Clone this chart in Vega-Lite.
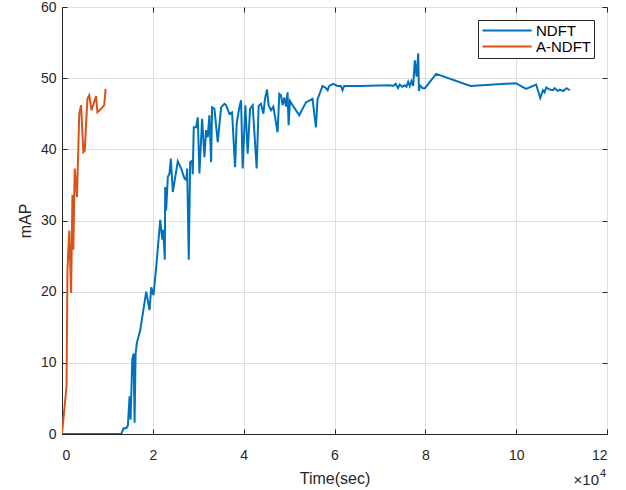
{
  "$schema": "https://vega.github.io/schema/vega-lite/v6.json",
  "width": 545,
  "height": 427,
  "autosize": {"type": "none"},
  "padding": {"left": 62, "top": 7, "right": 19, "bottom": 56},
  "background": "white",
  "config": {
    "font": "Liberation Sans",
    "view": {"stroke": "#262626", "strokeWidth": 1},
    "axis": {
      "labelFont": "Liberation Sans",
      "titleFont": "Liberation Sans",
      "labelFontSize": 14,
      "titleFontSize": 16,
      "titleFontWeight": "normal",
      "labelColor": "#262626",
      "titleColor": "#262626",
      "domainColor": "#262626",
      "tickColor": "#262626",
      "gridColor": "#dedede",
      "gridOpacity": 1
    }
  },
  "datasets": {
    "series": [
      {"series": "NDFT", "t": 0, "map": 0},
      {"series": "NDFT", "t": 13050, "map": 0},
      {"series": "NDFT", "t": 13560, "map": 0.8},
      {"series": "NDFT", "t": 14150, "map": 0.8},
      {"series": "NDFT", "t": 14510, "map": 1.2},
      {"series": "NDFT", "t": 14880, "map": 5.3},
      {"series": "NDFT", "t": 15100, "map": 2},
      {"series": "NDFT", "t": 15470, "map": 10.4},
      {"series": "NDFT", "t": 15760, "map": 11.3},
      {"series": "NDFT", "t": 15980, "map": 1.6},
      {"series": "NDFT", "t": 16200, "map": 11.2},
      {"series": "NDFT", "t": 16480, "map": 12.8},
      {"series": "NDFT", "t": 17230, "map": 14.6},
      {"series": "NDFT", "t": 18550, "map": 20},
      {"series": "NDFT", "t": 19270, "map": 17.4},
      {"series": "NDFT", "t": 19650, "map": 20.6},
      {"series": "NDFT", "t": 20150, "map": 19.5},
      {"series": "NDFT", "t": 20750, "map": 23.5},
      {"series": "NDFT", "t": 21630, "map": 30.1},
      {"series": "NDFT", "t": 22070, "map": 27.3},
      {"series": "NDFT", "t": 22290, "map": 28.7},
      {"series": "NDFT", "t": 22640, "map": 24.5},
      {"series": "NDFT", "t": 22720, "map": 34.7},
      {"series": "NDFT", "t": 22940, "map": 31.4},
      {"series": "NDFT", "t": 23300, "map": 36.1},
      {"series": "NDFT", "t": 23670, "map": 36.6},
      {"series": "NDFT", "t": 23960, "map": 38.7},
      {"series": "NDFT", "t": 24400, "map": 34.0},
      {"series": "NDFT", "t": 25490, "map": 38.3},
      {"series": "NDFT", "t": 26240, "map": 37.3},
      {"series": "NDFT", "t": 26970, "map": 35.9},
      {"series": "NDFT", "t": 27340, "map": 35.7},
      {"series": "NDFT", "t": 27560, "map": 37.3},
      {"series": "NDFT", "t": 27910, "map": 24.5},
      {"series": "NDFT", "t": 28220, "map": 38.2},
      {"series": "NDFT", "t": 28660, "map": 38.4},
      {"series": "NDFT", "t": 28790, "map": 36.5},
      {"series": "NDFT", "t": 29010, "map": 43.1},
      {"series": "NDFT", "t": 29540, "map": 43.1},
      {"series": "NDFT", "t": 29890, "map": 44.5},
      {"series": "NDFT", "t": 30260, "map": 36.6},
      {"series": "NDFT", "t": 30850, "map": 44.3},
      {"series": "NDFT", "t": 31360, "map": 38.9},
      {"series": "NDFT", "t": 31730, "map": 42.7},
      {"series": "NDFT", "t": 32090, "map": 41.7},
      {"series": "NDFT", "t": 32460, "map": 44.8},
      {"series": "NDFT", "t": 32830, "map": 38.2},
      {"series": "NDFT", "t": 33050, "map": 45.9},
      {"series": "NDFT", "t": 33560, "map": 45.7},
      {"series": "NDFT", "t": 34290, "map": 41.0},
      {"series": "NDFT", "t": 35030, "map": 45.9},
      {"series": "NDFT", "t": 35760, "map": 46.4},
      {"series": "NDFT", "t": 36130, "map": 46.2},
      {"series": "NDFT", "t": 36860, "map": 45.0},
      {"series": "NDFT", "t": 37450, "map": 45.2},
      {"series": "NDFT", "t": 38110, "map": 37.5},
      {"series": "NDFT", "t": 38460, "map": 43.6},
      {"series": "NDFT", "t": 39050, "map": 45.9},
      {"series": "NDFT", "t": 39430, "map": 46.9},
      {"series": "NDFT", "t": 39780, "map": 37.3},
      {"series": "NDFT", "t": 40370, "map": 46.2},
      {"series": "NDFT", "t": 40880, "map": 39.4},
      {"series": "NDFT", "t": 41410, "map": 45.7},
      {"series": "NDFT", "t": 41980, "map": 46.2},
      {"series": "NDFT", "t": 42860, "map": 37.3},
      {"series": "NDFT", "t": 43300, "map": 46.1},
      {"series": "NDFT", "t": 43820, "map": 46.4},
      {"series": "NDFT", "t": 44330, "map": 45.0},
      {"series": "NDFT", "t": 44700, "map": 47.1},
      {"series": "NDFT", "t": 45140, "map": 48.4},
      {"series": "NDFT", "t": 45490, "map": 46.2},
      {"series": "NDFT", "t": 46020, "map": 45.5},
      {"series": "NDFT", "t": 46530, "map": 46.0},
      {"series": "NDFT", "t": 47470, "map": 42.4},
      {"series": "NDFT", "t": 47850, "map": 47.8},
      {"series": "NDFT", "t": 48220, "map": 47.6},
      {"series": "NDFT", "t": 48570, "map": 46.2},
      {"series": "NDFT", "t": 48950, "map": 47.3},
      {"series": "NDFT", "t": 49320, "map": 46.0},
      {"series": "NDFT", "t": 49670, "map": 48.0},
      {"series": "NDFT", "t": 49890, "map": 43.4},
      {"series": "NDFT", "t": 50200, "map": 46.8},
      {"series": "NDFT", "t": 50770, "map": 46.2},
      {"series": "NDFT", "t": 52240, "map": 44.8},
      {"series": "NDFT", "t": 53710, "map": 46.6},
      {"series": "NDFT", "t": 55160, "map": 47.1},
      {"series": "NDFT", "t": 55910, "map": 43.1},
      {"series": "NDFT", "t": 56260, "map": 47.0},
      {"series": "NDFT", "t": 57360, "map": 48.9},
      {"series": "NDFT", "t": 58110, "map": 48.6},
      {"series": "NDFT", "t": 58500, "map": 48.3},
      {"series": "NDFT", "t": 58840, "map": 48.9},
      {"series": "NDFT", "t": 59710, "map": 49.2},
      {"series": "NDFT", "t": 60660, "map": 48.9},
      {"series": "NDFT", "t": 61410, "map": 48.9},
      {"series": "NDFT", "t": 61760, "map": 48.3},
      {"series": "NDFT", "t": 62130, "map": 48.9},
      {"series": "NDFT", "t": 65430, "map": 48.9},
      {"series": "NDFT", "t": 72130, "map": 49.0},
      {"series": "NDFT", "t": 72880, "map": 48.9},
      {"series": "NDFT", "t": 73470, "map": 49.2},
      {"series": "NDFT", "t": 73980, "map": 48.6},
      {"series": "NDFT", "t": 74350, "map": 49.1},
      {"series": "NDFT", "t": 74950, "map": 48.8},
      {"series": "NDFT", "t": 75470, "map": 49.0},
      {"series": "NDFT", "t": 75850, "map": 48.8},
      {"series": "NDFT", "t": 76220, "map": 49.5},
      {"series": "NDFT", "t": 76570, "map": 48.9},
      {"series": "NDFT", "t": 76950, "map": 49.6},
      {"series": "NDFT", "t": 77320, "map": 48.9},
      {"series": "NDFT", "t": 77690, "map": 52.5},
      {"series": "NDFT", "t": 78070, "map": 50.2},
      {"series": "NDFT", "t": 78440, "map": 53.5},
      {"series": "NDFT", "t": 78590, "map": 48.2},
      {"series": "NDFT", "t": 78810, "map": 49.0},
      {"series": "NDFT", "t": 79410, "map": 48.6},
      {"series": "NDFT", "t": 79910, "map": 48.6},
      {"series": "NDFT", "t": 82370, "map": 50.6},
      {"series": "NDFT", "t": 89930, "map": 48.9},
      {"series": "NDFT", "t": 99960, "map": 49.3},
      {"series": "NDFT", "t": 102180, "map": 48.5},
      {"series": "NDFT", "t": 104400, "map": 49.1},
      {"series": "NDFT", "t": 105300, "map": 47.2},
      {"series": "NDFT", "t": 105890, "map": 48.3},
      {"series": "NDFT", "t": 106240, "map": 48.0},
      {"series": "NDFT", "t": 106620, "map": 48.7},
      {"series": "NDFT", "t": 107360, "map": 48.4},
      {"series": "NDFT", "t": 108110, "map": 48.3},
      {"series": "NDFT", "t": 108480, "map": 48.6},
      {"series": "NDFT", "t": 109210, "map": 48.2},
      {"series": "NDFT", "t": 109580, "map": 48.4},
      {"series": "NDFT", "t": 110330, "map": 48.2},
      {"series": "NDFT", "t": 111080, "map": 48.6},
      {"series": "NDFT", "t": 111820, "map": 48.3},
      {"series": "A-NDFT", "t": 0, "map": 0},
      {"series": "A-NDFT", "t": 1000, "map": 6.7},
      {"series": "A-NDFT", "t": 1200, "map": 23.0},
      {"series": "A-NDFT", "t": 1600, "map": 28.6},
      {"series": "A-NDFT", "t": 2000, "map": 19.8},
      {"series": "A-NDFT", "t": 2300, "map": 33.6},
      {"series": "A-NDFT", "t": 2500, "map": 25.9},
      {"series": "A-NDFT", "t": 2800, "map": 37.3},
      {"series": "A-NDFT", "t": 3300, "map": 33.3},
      {"series": "A-NDFT", "t": 3800, "map": 45.0},
      {"series": "A-NDFT", "t": 4200, "map": 46.2},
      {"series": "A-NDFT", "t": 4700, "map": 39.6},
      {"series": "A-NDFT", "t": 5000, "map": 39.8},
      {"series": "A-NDFT", "t": 5600, "map": 47.1},
      {"series": "A-NDFT", "t": 6000, "map": 47.6},
      {"series": "A-NDFT", "t": 6500, "map": 45.5},
      {"series": "A-NDFT", "t": 7500, "map": 47.5},
      {"series": "A-NDFT", "t": 7800, "map": 45.2},
      {"series": "A-NDFT", "t": 8900, "map": 45.9},
      {"series": "A-NDFT", "t": 9300, "map": 46.2},
      {"series": "A-NDFT", "t": 9600, "map": 48.5}
    ],
    "note": [{"t": 120000, "map": 0, "base": "×10", "exp": "4"}]
  },
  "resolve": {"axis": {"x": "independent", "y": "independent"}},
  "layer": [
    {
      "data": {"name": "series"},
      "mark": {"type": "line", "strokeWidth": 2, "clip": true},
      "encoding": {
        "x": {
          "field": "t", "type": "quantitative",
          "scale": {"domain": [0, 120000], "nice": false, "zero": false},
          "axis": {
            "orient": "bottom",
            "title": "Time(sec)",
            "values": [0, 20000, 40000, 60000, 80000, 100000, 120000],
            "labelExpr": "datum.value / 10000",
            "tickSize": -5,
            "labelPadding": 19,
            "titlePadding": 8,
            "grid": true
          }
        },
        "y": {
          "field": "map", "type": "quantitative",
          "scale": {"domain": [0, 60], "nice": false},
          "axis": {
            "orient": "left",
            "title": "mAP",
            "values": [0, 10, 20, 30, 40, 50, 60],
            "tickSize": -5,
            "labelPadding": 11,
            "titlePadding": 7,
            "grid": true
          }
        },
        "color": {
          "field": "series", "type": "nominal",
          "scale": {"domain": ["NDFT", "A-NDFT"], "range": ["#0072BD", "#D95319"]},
          "legend": {
            "title": null,
            "orient": "top-right",
            "offset": 13,
            "symbolType": "M-1,0H7.2",
            "symbolSize": 144,
            "symbolStrokeWidth": 2,
            "labelFontSize": 15,
            "labelFont": "Liberation Sans",
            "labelColor": "#000000",
            "strokeColor": "#262626",
            "fillColor": "white",
            "padding": 3,
            "rowPadding": 0,
            "labelOffset": 40
          }
        }
      }
    },
    {
      "data": {"name": "note"},
      "mark": {"type": "text", "align": "right", "baseline": "alphabetic", "dx": -8, "dy": 51, "fontSize": 15, "font": "Liberation Sans", "color": "#262626"},
      "encoding": {
        "x": {"field": "t", "type": "quantitative",
          "axis": {"orient": "top", "title": null, "labels": false, "domain": false, "grid": false, "tickSize": -5, "values": [0, 20000, 40000, 60000, 80000, 100000, 120000]}},
        "y": {"field": "map", "type": "quantitative",
          "axis": {"orient": "right", "title": null, "labels": false, "domain": false, "grid": false, "tickSize": -5, "values": [0, 10, 20, 30, 40, 50, 60]}},
        "text": {"field": "base"}
      }
    },
    {
      "data": {"name": "note"},
      "mark": {"type": "text", "align": "left", "baseline": "alphabetic", "dx": -7, "dy": 43, "fontSize": 11, "font": "Liberation Sans", "color": "#262626"},
      "encoding": {
        "x": {"field": "t", "type": "quantitative", "axis": null},
        "y": {"field": "map", "type": "quantitative", "axis": null},
        "text": {"field": "exp"}
      }
    }
  ]
}
